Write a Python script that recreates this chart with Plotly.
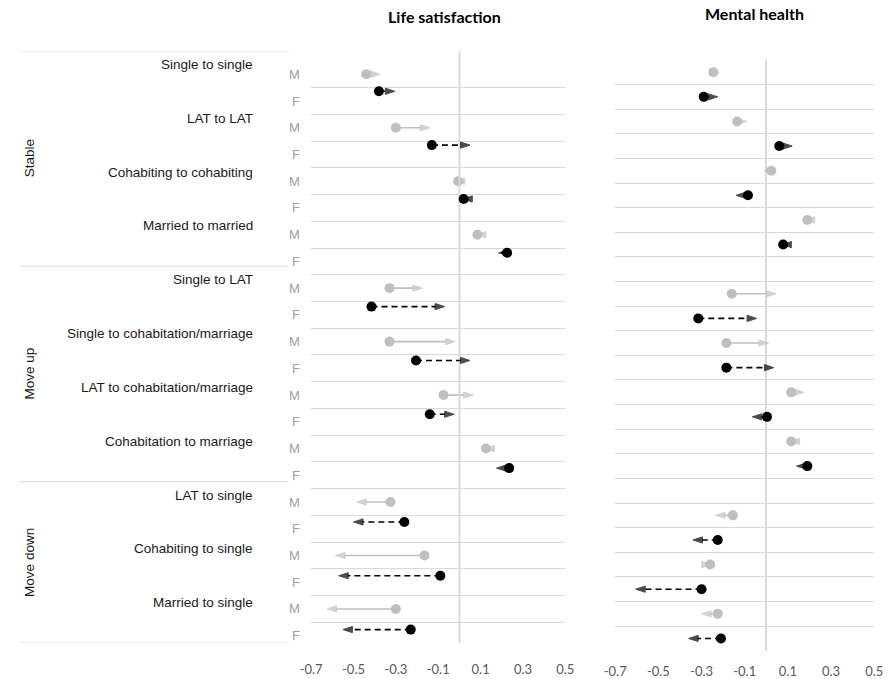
import plotly.graph_objects as go

W, H = 895, 679

# ---------------- data ----------------
group_names = ["Stable", "Move up", "Move down"]
transitions = [
    "Single to single", "LAT to LAT", "Cohabiting to cohabiting", "Married to married",
    "Single to LAT", "Single to cohabitation/marriage", "LAT to cohabitation/marriage",
    "Cohabitation to marriage",
    "LAT to single", "Cohabiting to single", "Married to single",
]
transition_group = [0, 0, 0, 0, 1, 1, 1, 1, 2, 2, 2]
sex_labels = ["M", "F"]

# Life satisfaction (start -> end)
ls_m_start = [-0.44, -0.30, -0.006, 0.085, -0.33, -0.33, -0.075, 0.125, -0.325, -0.165, -0.30]
ls_m_end = [-0.375, -0.14, -0.02, 0.08, -0.175, -0.02, 0.065, 0.12, -0.485, -0.585, -0.625]
ls_f_start = [-0.38, -0.13, 0.02, 0.225, -0.415, -0.205, -0.14, 0.235, -0.26, -0.09, -0.23]
ls_f_end = [-0.305, 0.05, 0.016, 0.185, -0.07, 0.05, -0.025, 0.175, -0.50, -0.57, -0.55]

# Mental health (start -> end)
mh_m_start = [-0.245, -0.135, 0.023, 0.19, -0.16, -0.185, 0.115, 0.115, -0.155, -0.26, -0.225]
mh_m_end = [-0.22, -0.09, -0.009, 0.18, 0.045, 0.01, 0.175, 0.11, -0.235, -0.255, -0.30]
mh_f_start = [-0.29, 0.06, -0.085, 0.078, -0.315, -0.185, 0.003, 0.19, -0.225, -0.30, -0.21]
mh_f_end = [-0.225, 0.12, -0.14, 0.072, -0.045, 0.035, -0.065, 0.14, -0.34, -0.605, -0.36]

x_tick_vals = [-0.7, -0.5, -0.3, -0.1, 0.1, 0.3, 0.5]
x_tick_text = ["-0.7", "-0.5", "-0.3", "-0.1", "0.1", "0.3", "0.5"]
panel_titles = ["Life satisfaction", "Mental health"]

# ---------------- styles ----------------
GREY = "#bfbfbf"
BLACK = "#000000"
GRID = "#d9d9d9"
TICK_FONT = dict(family="Lato, Carlito, Arial", size=13, color="#595959")
LABEL_FONT = dict(family="Liberation Sans, Arial", size=13.5, color="#1a1a1a")
SEX_FONT = dict(family="Liberation Sans, Arial", size=13, color="#a0a0a0")


def px_x(p):
    return p / W


def px_y(p):
    return 1 - p / H


fig = go.Figure()


def add_arrow(x0, x1, yrow, xa, ya, color, dash):
    # shaft + arrow head (tip sits on the end value)
    fig.add_trace(go.Scatter(
        x=[x0, x1], y=[yrow, yrow], xaxis=xa, yaxis=ya,
        mode="lines+markers",
        line=dict(color=color, width=1.6, dash=dash),
        marker=dict(symbol="arrow", size=[0, 10], color=color,
                    angleref="previous", line=dict(width=1, color=color)),
        showlegend=False, hoverinfo="skip", cliponaxis=False,
    ))
    # start point
    fig.add_trace(go.Scatter(
        x=[x0], y=[yrow], xaxis=xa, yaxis=ya, mode="markers",
        marker=dict(symbol="circle", size=10, color=color, line=dict(width=0)),
        showlegend=False, hoverinfo="skip", cliponaxis=False,
    ))


n = len(transitions)
for i in range(n):
    # left panel: M rows on gridline scale, F rows on category-label scale
    add_arrow(ls_m_start[i], ls_m_end[i], 2 * i + 0.5, "x", "y", GREY, "solid")
    add_arrow(ls_f_start[i], ls_f_end[i], 2 * i + 1.5, "x", "y3", BLACK, "6px,4px")
    # right panel: one blank row between groups
    r = 2 * i + transition_group[i]
    add_arrow(mh_m_start[i], mh_m_end[i], r + 0.5, "x2", "y2", GREY, "solid")
    add_arrow(mh_f_start[i], mh_f_end[i], r + 1.5, "x2", "y2", BLACK, "6px,4px")

n_rows_left = 2 * n
n_rows_right = 2 * n + len(group_names) - 1

axis_x_common = dict(range=[-0.7, 0.5], tickvals=x_tick_vals, ticktext=x_tick_text,
                     showgrid=False, showline=False, ticks="", tickfont=TICK_FONT,
                     ticklabelstandoff=11, fixedrange=True)

fig.update_layout(
    width=W, height=H, autosize=False,
    margin=dict(l=0, r=0, t=0, b=0),
    paper_bgcolor="white", plot_bgcolor="rgba(0,0,0,0)",
    showlegend=False,
    xaxis=dict(domain=[px_x(307), px_x(567)], anchor="y", zeroline=False, **axis_x_common),
    yaxis=dict(domain=[px_y(650), px_y(61)], anchor="x", range=[n_rows_left, 0],
               tickvals=list(range(n_rows_left + 1)), showticklabels=False,
               showgrid=True, gridcolor=GRID, gridwidth=1, zeroline=False, ticks=""),
    yaxis3=dict(domain=[px_y(644), px_y(51)], anchor="x", range=[n_rows_left, 0],
                visible=False, showgrid=False, zeroline=False),
    xaxis2=dict(domain=[px_x(618), px_x(883)], anchor="y2", zeroline=True,
                zerolinecolor=GRID, zerolinewidth=2, **axis_x_common),
    yaxis2=dict(domain=[px_y(651.7), px_y(60)], anchor="x2", range=[n_rows_right, 0],
                tickvals=list(range(n_rows_right + 1)), showticklabels=False,
                showgrid=True, gridcolor=GRID, gridwidth=1, zeroline=False, ticks=""),
)

# zero line of left panel (spans category-label scale)
fig.add_shape(type="line", xref="x", yref="y3", x0=0, x1=0, y0=0, y1=n_rows_left,
              line=dict(color=GRID, width=2), layer="below")

# group separator lines and group labels
group_bounds = [0]
for g in range(len(group_names)):
    group_bounds.append(group_bounds[-1] + 2 * transition_group.count(g))
for b in group_bounds:
    fig.add_shape(type="line", xref="paper", yref="y3", x0=px_x(8), x1=px_x(284),
                  y0=b, y1=b, line=dict(color=GRID, width=1))
for g, name in enumerate(group_names):
    fig.add_annotation(text=name, xref="paper", yref="y3", x=px_x(19),
                       y=(group_bounds[g] + group_bounds[g + 1]) / 2,
                       textangle=-90, showarrow=False, font=LABEL_FONT,
                       xanchor="center", yanchor="middle")

# transition labels and sex labels
for i, t in enumerate(transitions):
    fig.add_annotation(text=t, xref="paper", yref="y3", x=px_x(250), y=2 * i + 0.5,
                       showarrow=False, font=LABEL_FONT, xanchor="right", yanchor="middle")
    for k, s in enumerate(sex_labels):
        fig.add_annotation(text=s, xref="paper", yref="y", x=px_x(298), y=2 * i + 0.5 + k,
                           showarrow=False, font=SEX_FONT, xanchor="right", yanchor="middle")

# panel titles
for title, cx, cy in zip(panel_titles, [443, 761], [17, 14]):
    fig.add_annotation(text="<b>" + title + "</b>", xref="paper", yref="paper",
                       x=px_x(cx), y=px_y(cy), showarrow=False,
                       font=dict(family="Lato, Carlito, Arial", size=16, color="#000000"),
                       xanchor="center", yanchor="middle")

fig.write_html("out.html", config={"displayModeBar": False, "staticPlot": True})

# remove the browser's default page margin so the figure sits at the window origin
with open("out.html", encoding="utf-8") as fh:
    html = fh.read()
html = html.replace("<head>", "<head><style>html,body{margin:0;padding:0;overflow:hidden;}</style>", 1)
with open("out.html", "w", encoding="utf-8") as fh:
    fh.write(html)
